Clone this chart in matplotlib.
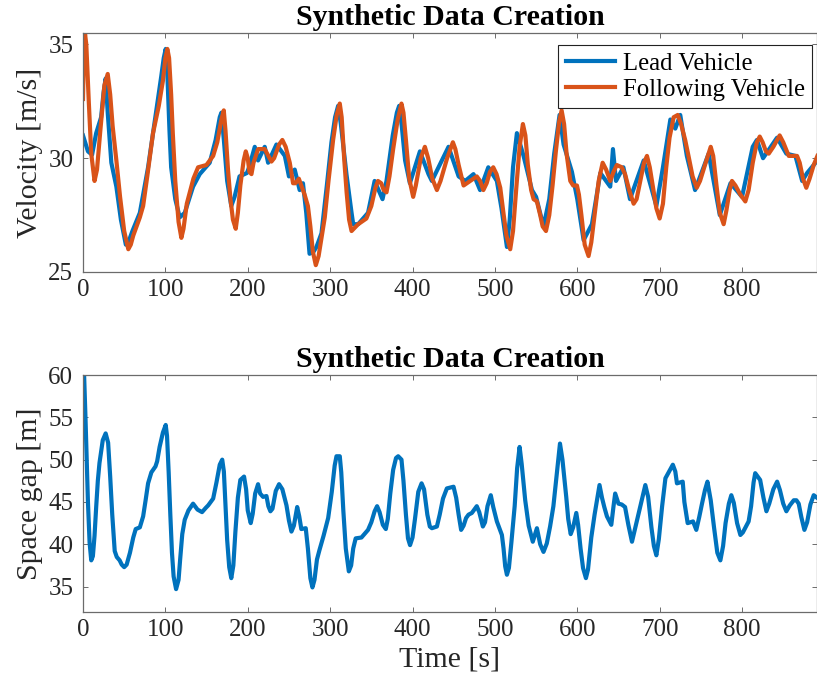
import numpy as np
import matplotlib
matplotlib.use('Agg')
import matplotlib.pyplot as plt

plt.rcParams['font.family'] = ['Liberation Serif', 'DejaVu Serif']

# lead vehicle velocity
lead_t = [0, 6, 11, 16, 22, 25, 27.5, 30, 34.4, 40.5, 46, 52, 56, 60, 69, 79, 89, 95, 98, 100.4,
          102.5, 105, 107, 112, 117.4, 123.5, 133.6, 141.7, 153.8, 161, 166, 168, 171, 175, 180,
          184, 190, 199, 201.6, 208.5, 212.5, 220.6, 224.7, 234.8, 245, 250, 257, 263, 267, 271,
          275, 280, 283.4, 289.5, 296, 301.6, 306, 309.7, 313, 319.8, 326, 328, 334, 346, 354,
          363.6, 368.4, 376, 381, 383.8, 387, 391, 396.8, 409, 419.4, 423.5, 443.7, 456, 464,
          474, 482, 492, 502.4, 508, 514.6, 518, 522, 526.7, 534.8, 545, 550, 559, 566, 572,
          578.5, 583.4, 593.5, 600, 607.7, 617.8, 628, 640, 643.3, 647, 656, 664, 680.6, 696,
          704, 713, 719, 725, 733, 743, 759.5, 773, 786, 800, 813, 818, 825.5, 842.5, 853.8,
          864.8, 873, 879, 891.5]
lead_v = [31.0, 30.3, 30.15, 31.1, 31.8, 32.9, 33.5, 32.0, 29.8, 28.75, 27.3, 26.2, 26.4, 26.8,
          27.6, 29.6, 32.1, 33.6, 34.4, 34.8, 33.6, 31.2, 29.6, 28.2, 27.4, 27.6, 28.75, 29.3,
          29.8, 30.8, 31.8, 32.0, 30.8, 29.0, 27.9, 28.3, 29.2, 29.35, 29.6, 30.5, 29.9, 30.5,
          29.8, 30.6, 30.1, 29.2, 29.5, 28.6, 28.9, 27.6, 25.8, 25.9, 26.1, 26.7, 28.8, 30.7,
          31.8, 32.3, 31.5, 29.3, 27.6, 27.1, 27.1, 27.6, 29.0, 28.2, 29.0, 31.0, 32.0, 32.3,
          31.4, 29.9, 28.9, 30.3, 29.3, 29.0, 30.5, 29.2, 29.0, 29.3, 28.6, 29.6, 29.0, 27.8,
          26.1, 27.3, 29.6, 31.1, 30.1, 28.6, 28.3, 27.0, 28.2, 30.2, 31.9, 30.6, 29.4, 28.2,
          26.4, 27.1, 29.35, 28.75, 30.4, 29.0, 29.6, 28.2, 29.9, 27.9, 29.6, 31.7, 31.3, 31.9,
          30.1, 28.6, 30.2, 27.5, 28.9, 28.3, 30.5, 30.8, 30.0, 30.9, 30.2, 30.1, 29.0, 29.35,
          29.9]

# following vehicle velocity
follow_t = [0, 1, 2.5, 4, 7, 10, 14, 17, 21, 26, 30, 33, 36, 40.5, 45, 50, 55, 58, 61, 65, 69,
            73, 78, 85, 92, 97, 100, 102.4, 104.5, 107, 109, 112, 116, 119.4, 122, 126, 129.6,
            134, 139.7, 149.8, 158, 163, 168, 170.9, 173, 176, 179, 182, 185.4, 188, 191, 195,
            197.6, 200, 202, 204.5, 207, 212.5, 220.6, 225, 228.7, 232, 238, 242, 246, 251, 255,
            258, 262, 265, 269, 273, 276, 279, 282.6, 286, 290, 293.5, 298, 303.6, 308, 311.7,
            314, 317, 320, 323, 326, 334, 344, 350, 355, 358, 362, 365, 368.4, 372, 376.5, 382,
            386.6, 389, 392, 396, 400.8, 404, 410, 415, 419, 424, 429.6, 434, 442, 449, 452, 456,
            462, 470, 478, 482, 486, 490, 494, 498, 502, 506.5, 510, 514, 518.6, 522, 526, 530,
            534, 537, 540, 544, 547, 551, 555, 558, 562, 566, 570, 574, 578, 581, 584, 587, 591.5,
            595, 599.6, 602, 605, 609, 613.7, 617, 621, 626, 630.8, 635, 640, 644, 648, 654, 658,
            663, 668.4, 672, 677, 681, 684.6, 688, 692, 696, 700, 704, 708, 712, 717, 722, 726,
            731, 735, 740, 745, 749, 755, 762, 765, 769, 773, 777.7, 781, 785, 787.8, 792, 798,
            804, 808, 813, 818, 821.5, 825, 829, 832.4, 838, 845.7, 850, 856.7, 862, 866.8, 870,
            874, 878, 882, 887, 891.5]
follow_v = [32.6, 34.5, 35.45, 35.0, 32.5, 30.2, 29.0, 29.5, 31.2, 33.2, 33.7, 32.8, 31.4, 29.9,
            28.3, 26.8, 26.0, 26.2, 26.6, 27.0, 27.4, 27.9, 29.2, 31.1, 32.3, 33.4, 34.4, 34.8,
            34.4, 32.8, 31.1, 29.0, 27.2, 26.5, 26.9, 28.0, 28.5, 29.1, 29.6, 29.7, 30.1, 30.7,
            31.7, 32.1, 31.2, 29.5, 28.2, 27.3, 26.9, 27.6, 28.8, 29.9, 30.3, 30.0, 29.4, 29.3,
            29.8, 30.4, 30.4, 30.1, 29.85, 30.0, 30.6, 30.8, 30.5, 29.8, 28.9, 28.9, 29.1, 28.8,
            28.4, 27.9, 27.0, 25.9, 25.3, 25.7, 26.6, 27.4, 29.0, 30.8, 31.9, 32.4, 31.8, 30.0,
            28.5, 27.3, 26.8, 27.1, 27.35, 27.9, 28.7, 29.0, 28.9, 28.6, 28.5, 29.2, 30.4, 31.7,
            32.4, 32.0, 30.8, 29.1, 28.3, 28.8, 30.0, 30.5, 30.0, 29.1, 28.6, 29.0, 30.0, 30.7,
            30.4, 29.7, 28.8, 29.0, 29.2, 29.0, 28.6, 28.9, 29.4, 29.6, 29.3, 28.7, 27.7, 26.6,
            26.0, 26.8, 28.7, 30.5, 31.5, 31.0, 29.7, 28.6, 28.2, 28.1, 27.5, 27.0, 26.8, 27.5,
            28.8, 30.3, 31.6, 32.1, 31.5, 30.2, 29.0, 28.8, 28.8, 28.4, 27.5, 26.2, 25.7, 26.3,
            27.5, 29.0, 29.8, 29.5, 29.0, 29.4, 29.7, 29.6, 29.3, 28.6, 28.0, 28.2, 29.1, 29.8,
            30.1, 29.6, 28.7, 27.8, 27.35, 28.0, 29.6, 30.9, 31.8, 31.9, 31.5, 30.8, 30.1, 29.2,
            28.7, 29.0, 29.7, 30.5, 30.1, 28.8, 27.6, 27.1, 27.7, 28.6, 29.0, 28.8, 28.4, 28.1,
            28.6, 29.8, 30.7, 30.95, 30.7, 30.3, 30.2, 30.5, 31.0, 30.7, 30.1, 30.1, 30.1, 29.8,
            29.1, 28.7, 29.1, 29.7, 30.1]

# space gap between the two vehicles
gap_t = [0, 3, 6, 8, 10, 12, 14, 16, 18, 20, 24, 27.5, 30.5, 33, 35.5, 38.5, 41, 44.5, 47, 50,
         53, 57, 61, 64, 69, 73, 76, 79, 83, 88, 90, 93, 97, 100.4, 102, 104, 106, 108, 110, 113,
         116, 118, 120.5, 123.5, 128, 133.6, 139, 144.5, 149, 152, 158, 162, 166, 169, 171, 173,
         175, 177.5, 180, 182.5, 185, 188, 191, 195.5, 198, 200, 203.6, 206, 209, 212.5, 215,
         218.6, 222.7, 225, 227.5, 230, 234, 238, 242, 247, 250, 253, 256, 260, 262.5, 265,
         270.4, 273, 276, 278.5, 281, 284, 287, 292, 297.6, 302, 305.5, 307.7, 311.7, 313.5,
         316, 319, 322.7, 325.5, 328, 331, 338, 346, 350, 354, 357, 360, 364, 367.6, 370, 373,
         376.5, 380, 382.6, 386.6, 389, 392, 394.5, 397, 400, 403, 407, 411, 414, 418, 421,
         423.5, 429.6, 433, 437, 441.7, 449.8, 453, 456, 459, 462, 465, 468, 472, 478, 481,
         485.4, 488, 491, 495, 498, 502.4, 508.5, 510.5, 512.5, 514.6, 517, 520, 524, 527, 530,
         532.5, 536.8, 541, 546, 551, 555, 559, 563, 567, 571, 575, 579, 582, 586.6, 589, 592,
         595, 598.8, 601, 604, 607, 610.5, 613, 617, 621, 627, 630, 632.8, 636, 641.3, 644,
         646, 650, 654, 658, 662, 666.4, 670, 676, 682.6, 686, 690, 693, 696, 699, 703, 707,
         712, 716, 719, 721, 728, 730, 734, 740.5, 744.5, 748, 751.4, 755, 758, 762, 766, 770,
         773.7, 777, 780, 784, 787, 790, 794, 798, 801, 808, 811, 814, 816, 822, 826, 829.6,
         833, 838, 842.6, 846, 850, 853.8, 858, 862.8, 866, 868.8, 872, 875.7, 879, 883, 887,
         891]
gap_s = [64, 55, 45, 40.2, 38.1, 38.6, 41, 44.4, 47.5, 49.6, 52.3, 53.1, 52.0, 48, 43.5, 39.2,
         38.5, 38.1, 37.6, 37.3, 37.6, 39.0, 40.8, 41.8, 42.0, 43.3, 45.2, 47.2, 48.5, 49.2,
         49.8, 51.5, 53.2, 54.1, 52.8, 48.5, 43.5, 39, 36.2, 34.7, 35.8, 38.3, 41.2, 42.9, 44.0,
         44.8, 44.1, 43.8, 44.3, 44.6, 45.4, 47.3, 49.4, 50.0, 48.6, 44.5, 40.5, 37.3, 36.0,
         37.5, 41.5, 45.5, 47.6, 48.0, 46.5, 44, 42.5, 43.6, 46, 47.1, 46, 45.6, 45.7, 44.5,
         43.9, 44.2, 46.3, 47.1, 46.5, 44.6, 42.8, 41.5, 42.2, 44.4, 43.3, 41.8, 41.9, 39.5,
         36.0, 34.9, 35.8, 38.2, 39.3, 41.0, 43.1, 46.2, 49.3, 50.4, 50.4, 48.5, 44, 39.5, 36.8,
         37.5, 39.5, 40.7, 40.8, 41.7, 42.6, 43.9, 44.5, 43.8, 42.3, 41.8, 43, 46, 48.8, 50.2,
         50.4, 50.0, 47.5, 43.5, 40.7, 39.9, 40.8, 43, 46.2, 47.2, 46.5, 43.5, 42.1, 41.9, 42.1,
         43.5, 45.4, 46.6, 46.8, 45.5, 43.5, 41.7, 42.2, 43.1, 43.5, 43.7, 44.5, 43.8, 42.1,
         42.6, 44.5, 45.8, 44.4, 42.7, 41.1, 39.5, 37.4, 36.4, 37.2, 40.2, 44.5, 49, 51.5, 49.5,
         45.2, 42.2, 40.3, 41.9, 40.0, 39.1, 40.1, 42.1, 44.5, 48.2, 51.9, 50, 45.6, 43, 41.2,
         42, 43.7, 42.3, 39.5, 37.2, 36.0, 37, 40.8, 43.5, 47.0, 45.5, 44.4, 43.3, 42.3, 44.5,
         46.0, 44.8, 44.7, 44.4, 42.3, 40.3, 41.8, 44.3, 47.0, 45.6, 42, 39.8, 38.7, 40.6, 44.5,
         47.8, 48.7, 49.4, 48.6, 47.2, 47.4, 45, 42.5, 42.7, 41.7, 43.2, 44.8, 46.4, 47.4, 45.2,
         42, 39, 38.1, 39.8, 42.5, 44.8, 45.8, 44.9, 42.5, 41.1, 41.4, 42.7, 44.5, 47.3, 48.4,
         47.6, 45.5, 43.9, 44.8, 46.5, 47.4, 46.4, 44.8, 43.9, 44.6, 45.2, 45.2, 44.8, 43.2,
         41.7, 42.6, 44.7, 45.8, 45.5]

BLUE = '#0072BD'
ORANGE = '#D95319'
TXT = '#262626'

fig = plt.figure(figsize=(8.17, 6.88), dpi=100)
ax1 = fig.add_axes([83/817, 1 - 272/688, 734/817, 239/688])
ax2 = fig.add_axes([83/817, 1 - 612/688, 734/817, 237/688])

ax1.plot(lead_t, lead_v, color=BLUE, lw=3.0, solid_joinstyle='round', label='Lead Vehicle')
ax1.plot(follow_t, follow_v, color=ORANGE, lw=3.0, solid_joinstyle='round', label='Following Vehicle')
ax2.plot(gap_t, gap_s, color=BLUE, lw=3.0, solid_joinstyle='round')

ax1.set_ylim(25, 35.5)
ax1.set_yticks([25, 30, 35])
ax2.set_ylim(32, 60)
ax2.set_yticks([35, 40, 45, 50, 55, 60])

for ax in (ax1, ax2):
    ax.set_xlim(0, 891)
    ax.set_xticks(np.arange(0, 900, 100))
    ax.tick_params(direction='in', top=True, right=True, length=3.6, width=0.6,
                   color='#555555', labelsize=18, labelcolor=TXT)
    ax.tick_params(axis='x', pad=5)
    ax.tick_params(axis='y', pad=7)
    for sp in ax.spines.values():
        sp.set_color('#6b6b6b')
        sp.set_linewidth(0.9)
    ax.set_title('Synthetic Data Creation', fontsize=21.5, fontweight='bold', pad=6)

ax1.set_ylabel('Velocity [m/s]', fontsize=21.5, color=TXT, labelpad=4)
ax2.set_ylabel('Space gap [m]', fontsize=21.5, color=TXT, labelpad=4)
ax2.set_xlabel('Time [s]', fontsize=21.5, color=TXT, labelpad=4)

leg = ax1.legend(loc='upper right', bbox_to_anchor=(1 - 5/734, 1 - 12/239), borderaxespad=0,
                 fontsize=17.8, fancybox=False, framealpha=1, edgecolor='#222222',
                 handlelength=2.0, handletextpad=0.3, labelspacing=0.15, borderpad=0.3)
leg.get_frame().set_linewidth(0.8)

fig.savefig('out.png', dpi=100)
